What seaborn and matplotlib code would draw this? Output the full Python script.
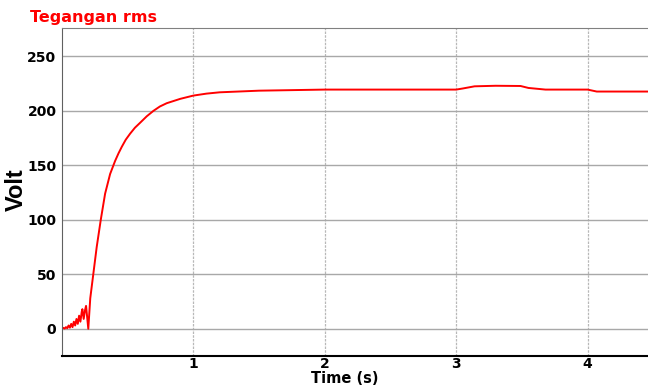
import matplotlib
matplotlib.use('Agg')
import matplotlib.pyplot as plt
import seaborn as sns
import pandas as pd

# Data (time in s, rms voltage in V)
time_s = [0.0, 0.01, 0.02, 0.03, 0.04, 0.05, 0.06, 0.07, 0.08, 0.09, 0.10,
          0.11, 0.12, 0.13, 0.14, 0.15, 0.155, 0.165, 0.175, 0.183, 0.20,
          0.215, 0.239, 0.264, 0.295, 0.328, 0.366, 0.404, 0.43, 0.455, 0.485, 0.518,
          0.555, 0.594, 0.645, 0.696, 0.745, 0.797, 0.9, 1.0, 1.1, 1.2, 1.5, 2.0, 2.5, 3.0, 3.05,
          3.14, 3.3, 3.49, 3.55, 3.68, 4.0, 4.07, 4.46]
volt = [0.0, 0.8, 0.2, 1.5, 0.5, 3.0, 1.0, 4.5, 1.5, 6.5, 3.0,
        9.0, 4.5, 12.0, 6.5, 15.5, 18.0, 9.0, 17.0, 21.0, 0.0,
        28.0, 51.0, 75.0, 100.0, 124.0, 142.0, 154.0, 161.0, 167.0, 173.5, 179.0,
        184.5, 189.0, 195.0, 200.0, 204.0, 207.0, 211.0, 214.0, 215.8, 217.0, 218.5, 219.5, 219.5, 219.5, 220.5,
        222.5, 223.0, 222.8, 221.0, 219.5, 219.5, 217.7, 217.7]

y_ticks = [0, 50, 100, 150, 200, 250]
x_ticks = [1, 2, 3, 4]

df = pd.DataFrame({'time': time_s, 'volt': volt})

sns.set_style('white')
plt.rcParams['font.family'] = ['DejaVu Sans']
plt.rcParams['text.color'] = 'black'
plt.rcParams['xtick.color'] = 'black'
plt.rcParams['ytick.color'] = 'black'

fig = plt.figure(figsize=(6.48, 3.87), dpi=100)
ax = fig.add_axes([0.0957, 0.0801, 0.9043, 0.8475])

sns.lineplot(data=df, x='time', y='volt', ax=ax, color='#ff0000', linewidth=1.4)

ax.set_xlim(0, 4.46)
ax.set_ylim(-25, 276)
ax.set_xticks(x_ticks)
ax.set_yticks(y_ticks)
ax.set_xticklabels([str(t) for t in x_ticks], fontsize=10, fontweight='bold')
ax.set_yticklabels([str(t) for t in y_ticks], fontsize=10, fontweight='bold')
ax.tick_params(axis='both', length=0, pad=4)
ax.tick_params(axis='x', pad=1)

# horizontal grid solid, vertical grid dashed
ax.yaxis.grid(True, color='#a8a8a8', linewidth=1.0, linestyle='-')
ax.xaxis.grid(True, color='#b8b8b8', linewidth=0.9, linestyle=(0, (2, 1)))
ax.set_axisbelow(True)

ax.spines['left'].set_color('#606060')
ax.spines['top'].set_color('#808080')
ax.spines['bottom'].set_color('black')
ax.spines['bottom'].set_linewidth(1.5)
ax.spines['right'].set_visible(False)

ax.set_xlabel('')
ax.set_ylabel('')
fig.text(0.532, 0.002, 'Time (s)', fontsize=10.5, fontweight='bold', ha='center', va='bottom')
fig.text(0.0255, 0.509, 'Volt', fontsize=17, fontweight='bold', rotation=90,
         ha='center', va='center', family=['Liberation Sans Narrow', 'Liberation Sans'])
fig.text(0.046, 0.955, 'Tegangan rms', fontsize=11.5, fontweight='bold', color='#ff0000',
         ha='left', va='center')

fig.savefig('out.png', dpi=100)
